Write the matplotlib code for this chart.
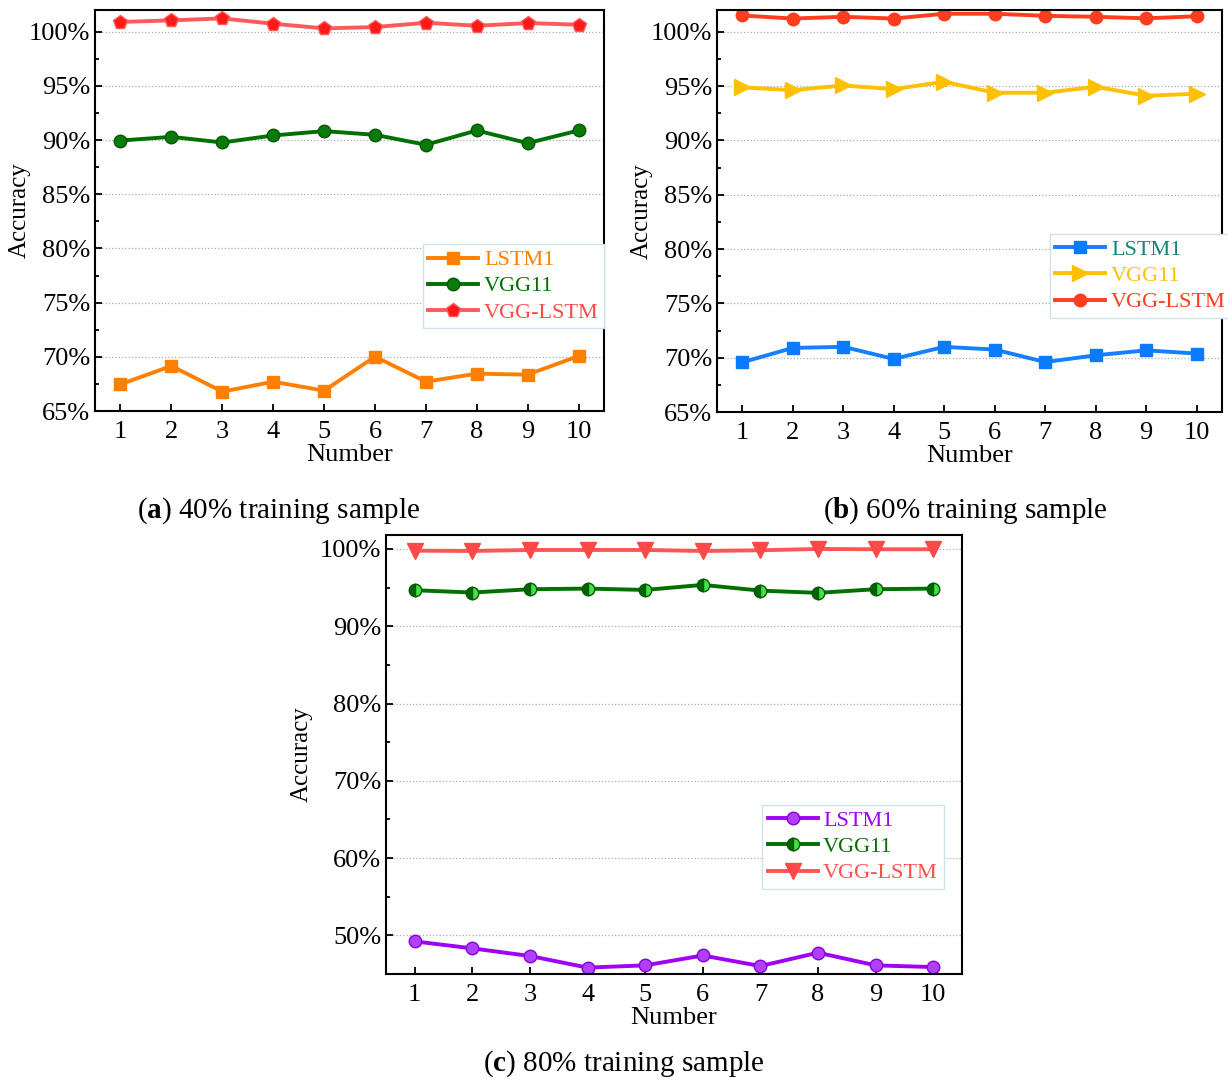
import matplotlib
matplotlib.use("Agg")
import matplotlib.pyplot as plt
from matplotlib.ticker import MultipleLocator, FuncFormatter

plt.rcParams['font.family'] = ['Liberation Serif', 'DejaVu Serif']
plt.rcParams['mathtext.fontset'] = 'custom'
plt.rcParams['mathtext.rm'] = 'Liberation Serif'
plt.rcParams['mathtext.bf'] = 'Liberation Serif:bold'

numbers = [1, 2, 3, 4, 5, 6, 7, 8, 9, 10]
labels = ["LSTM1", "VGG11", "VGG-LSTM"]

# (a) 40% training sample
a_lstm = [67.47, 69.16, 66.79, 67.71, 66.88, 70.02, 67.71, 68.45, 68.36, 70.08]
a_vgg = [89.96, 90.30, 89.78, 90.43, 90.83, 90.49, 89.57, 90.89, 89.72, 90.89]
a_vgglstm = [100.90, 101.05, 101.23, 100.74, 100.31, 100.43, 100.83, 100.55, 100.80, 100.65]

# (b) 60% training sample
b_lstm = [69.58, 70.90, 71.00, 69.89, 71.00, 70.75, 69.60, 70.22, 70.68, 70.38]
b_vgg = [94.88, 94.63, 95.06, 94.72, 95.40, 94.39, 94.39, 94.94, 94.11, 94.30]
b_vgglstm = [101.50, 101.22, 101.38, 101.22, 101.66, 101.66, 101.47, 101.38, 101.24, 101.43]

# (c) 80% training sample
c_lstm = [49.22, 48.32, 47.33, 45.83, 46.12, 47.40, 46.03, 47.76, 46.12, 45.90]
c_vgg = [94.66, 94.36, 94.79, 94.87, 94.70, 95.35, 94.61, 94.32, 94.79, 94.87]
c_vgglstm = [99.78, 99.74, 99.87, 99.87, 99.87, 99.74, 99.83, 100.00, 99.96, 99.96]

fig = plt.figure(figsize=(12.28, 10.82), dpi=100)
ax_a = fig.add_axes([0.0774, 0.6201, 0.4145, 0.3706])
ax_b = fig.add_axes([0.5839, 0.6192, 0.4112, 0.3715])
ax_c = fig.add_axes([0.3143, 0.0998, 0.4691, 0.4057])


def style_axis(ax, ylim, major, minor):
    ax.set_xlim(0.5, 10.5)
    ax.set_ylim(*ylim)
    ax.xaxis.set_major_locator(MultipleLocator(1))
    ax.yaxis.set_major_locator(MultipleLocator(major))
    ax.yaxis.set_minor_locator(MultipleLocator(minor))
    ax.yaxis.set_major_formatter(FuncFormatter(lambda v, p: "%d%%" % round(v)))
    ax.tick_params(axis='both', which='both', direction='in', top=False,
                   right=False, labelsize=19, width=1.3)
    ax.tick_params(axis='both', which='major', length=5)
    ax.tick_params(axis='x', which='major', pad=7)
    ax.tick_params(axis='y', which='minor', length=3)
    ax.tick_params(axis='x', which='minor', bottom=False)
    ax.grid(axis='y', which='major', linestyle=':', color='#aaaaaa', linewidth=0.9)
    ax.set_axisbelow(True)
    for s in ax.spines.values():
        s.set_linewidth(1.5)
    ax.set_xlabel("Number", fontsize=19, labelpad=1)
    ax.set_ylabel("Accuracy", fontsize=18)
    ax.yaxis.set_label_coords(-0.127, 0.5)


def add_legend(ax, anchor, colors):
    leg = ax.legend(loc='upper left', bbox_to_anchor=anchor, fontsize=16,
                    frameon=True, fancybox=False, framealpha=1,
                    edgecolor='#cfe2ec', handlelength=2.25, handletextpad=0.25,
                    labelspacing=0.25, borderpad=0.25, borderaxespad=0)
    leg.get_frame().set_linewidth(1.0)
    for t, c in zip(leg.get_texts(), colors):
        t.set_color(c)


lw = 2.8

# panel a
ax = ax_a
ax.plot(numbers, a_lstm, color='#ff8000', lw=lw, marker='s', ms=8.5,
        mfc='#ff8000', mec='#ff8000', label=labels[0])
ax.plot(numbers, a_vgg, color='#007000', lw=lw, marker='o', ms=9,
        mfc='#0a7a0a', mec='#005a00', label=labels[1])
ax.plot(numbers, a_vgglstm, color='#ff5a5a', lw=lw, marker='p', ms=10,
        mfc='#ff1a1a', mec='#ff5a5a', label=labels[2])
style_axis(ax, (65, 102), 5, 2.5)
add_legend(ax, (0.644, 0.416), ['#ff8000', '#007000', '#ff4a4a'])

# panel b
ax = ax_b
ax.plot(numbers, b_lstm, color='#1480ff', lw=lw, marker='s', ms=8.5,
        mfc='#0a7aff', mec='#0a7aff', label=labels[0])
ax.plot(numbers, b_vgg, color='#ffc000', lw=lw, marker='>', ms=11,
        mfc='#ffc000', mec='#ffc000', label=labels[1])
ax.plot(numbers, b_vgglstm, color='#ff3d1f', lw=lw, marker='o', ms=9,
        mfc='#ff3d1f', mec='#ff3d1f', label=labels[2])
style_axis(ax, (65, 102), 5, 2.5)
add_legend(ax, (0.659, 0.443), ['#14857a', '#ffc000', '#ff3d1f'])

# panel c
ax = ax_c
ax.plot(numbers, c_lstm, color='#a000f5', lw=lw, marker='o', ms=9,
        mfc='#b040ff', mec='#8a00d8', label=labels[0])
ax.plot(numbers, c_vgg, color='#007000', lw=lw, marker='o', ms=9,
        fillstyle='left', mfc='#006400', mfcalt='#44e044', mec='#005a00',
        label=labels[1])
ax.plot(numbers, c_vgglstm, color='#ff5555', lw=lw, marker='v', ms=11,
        mfc='#ff4848', mec='#ff4848', label=labels[2])
style_axis(ax, (45, 101.8), 10, 5)
add_legend(ax, (0.653, 0.385), ['#a000f5', '#007000', '#ff5050'])

fig.text(0.2265, 0.528, r"($\mathbf{a}$) 40% training sample", ha='center',
         va='center', fontsize=21)
fig.text(0.786, 0.528, r"($\mathbf{b}$) 60% training sample", ha='center',
         va='center', fontsize=21)
fig.text(0.508, 0.017, r"($\mathbf{c}$) 80% training sample", ha='center',
         va='center', fontsize=21)

fig.savefig("out.png", dpi=100)
plt.close()
